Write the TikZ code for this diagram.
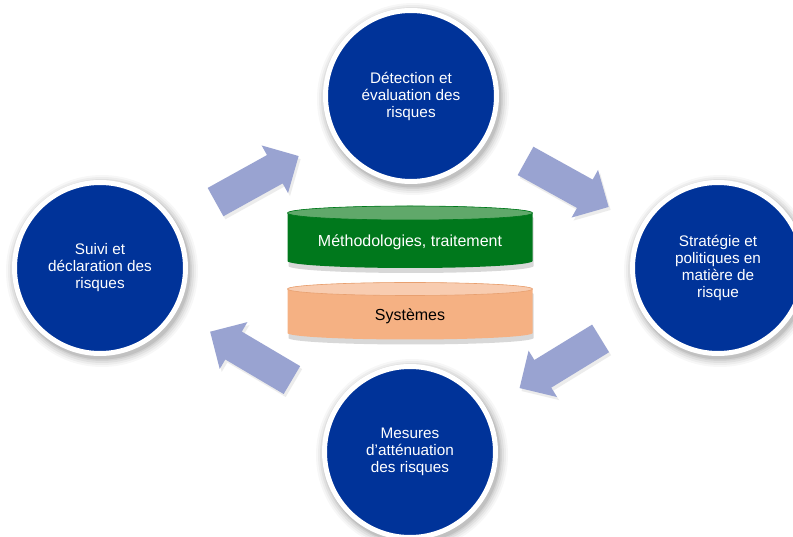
\documentclass[tikz,border=0pt]{standalone}
\usepackage{fontspec}
\setmainfont{Liberation Sans}
\usetikzlibrary{shapes.arrows,shadows}
\definecolor{circblue}{RGB}{0,51,153}
\definecolor{arrowc}{RGB}{153,163,209}
\definecolor{greenbody}{RGB}{0,120,28}
\definecolor{greentop}{RGB}{96,168,106}
\definecolor{orangebody}{RGB}{245,177,131}
\definecolor{orangetop}{RGB}{248,204,176}
\definecolor{orangeedge}{RGB}{232,160,112}
\tikzset{
  circ/.style={circle, fill=circblue, draw=white, line width=5pt,
    minimum size=171pt, inner sep=0pt, align=center, text=white,
    font=\fontsize{15.3}{17}\selectfont},
  blockarrow/.style={single arrow, fill=arrowc, draw=none, inner xsep=0pt, inner ysep=16pt,
    minimum height=95pt, single arrow head extend=11pt,
    drop shadow={opacity=0.15, shadow xshift=2pt, shadow yshift=-3pt}},
  cyltext/.style={font=\fontsize{16}{18}\selectfont, inner sep=0pt},
}
\newcommand{\softshadow}[2]{%
  \foreach \r/\o in {96/0.03,94/0.04,92/0.05,90/0.06,88.5/0.08}{%
    \fill[black, opacity=\o] (#1+2,#2-3) circle[radius=\r];}}
\begin{document}
\begin{tikzpicture}[x=1pt,y=1pt]
\useasboundingbox (0,0) rectangle (793,536);
\fill[white] (0,0) rectangle (793,536);

% soft shadows of the circles
\softshadow{411}{440}
\softshadow{718}{268}
\softshadow{410}{84}
\softshadow{100}{268}

% circles
\node[circ] (top) at (411,440) {Détection et\\évaluation des\\risques};
\node[circ] (right) at (718,268) {Stratégie et\\politiques en\\matière de\\risque};
\node[circ] (bottom) at (410,84) {Mesures\\d’atténuation\\des risques};
\node[circ] (left) at (100,268) {Suivi et\\déclaration des\\risques};

% arrows
\node[blockarrow, rotate=29] (a1) at (250,353) {};
\node[blockarrow, rotate=-29] (a2) at (560,356) {};
\node[blockarrow, rotate=211.5] (a3) at (567,177) {};
\node[blockarrow, rotate=149.4] (a4) at (258,176) {};

% green cylinder
\fill[greenbody, drop shadow={opacity=0.3, shadow xshift=1pt, shadow yshift=-5pt}]
  (287.5,323) -- (287.5,275) arc[start angle=180, end angle=360, x radius=122.5, y radius=7]
  -- (532.5,323) arc[start angle=0, end angle=180, x radius=122.5, y radius=7] -- cycle;
\fill[greentop, draw=greenbody, line width=0.6pt] (410,323) ellipse[x radius=122.5, y radius=7];
\node[cyltext, text=white] (meth) at (410,294) {Méthodologies, traitement};

% orange cylinder
\fill[orangebody, drop shadow={opacity=0.3, shadow xshift=1pt, shadow yshift=-5pt}]
  (287.5,247) -- (287.5,203) arc[start angle=180, end angle=360, x radius=122.5, y radius=6.5]
  -- (532.5,247) arc[start angle=0, end angle=180, x radius=122.5, y radius=6.5] -- cycle;
\fill[orangetop, draw=orangeedge, line width=0.6pt] (410,247) ellipse[x radius=122.5, y radius=6.5];
\node[cyltext, text=black] (sys) at (410,220) {Systèmes};
\end{tikzpicture}
\end{document}
